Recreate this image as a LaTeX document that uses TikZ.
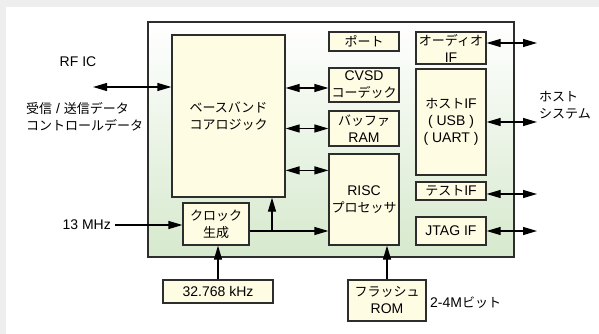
\documentclass[tikz,border=0pt]{standalone}
\usepackage{fontspec}
\setmainfont{Liberation Sans}
\newfontfamily\jpfont{Noto Sans CJK JP}
\usetikzlibrary{arrows.meta,calc}
\newcommand\J[1]{{\jpfont\fontsize{13}{17}\selectfont #1}}
\definecolor{bggray}{RGB}{238,238,238}
\definecolor{cream}{RGB}{255,252,228}
\definecolor{bd}{RGB}{45,45,45}
\definecolor{chipgreen}{RGB}{214,233,205}
\begin{document}
\begin{tikzpicture}[x=1pt,y=-1pt,
  every node/.style={font=\fontsize{14}{17}\selectfont},
  box/.style={draw=bd, fill=cream, line width=1.2pt, align=center, inner sep=0pt},
  lbl/.style={align=left, inner sep=0pt},
  conn/.style={line width=1.2pt, draw=black},
  bi/.style={conn, {Triangle[length=14pt,width=8pt]}-{Triangle[length=14pt,width=8pt]}},
  uni/.style={conn, -{Triangle[length=14pt,width=8pt]}}]
\useasboundingbox (0,0) rectangle (599,334);
\fill[bggray] (0,0) rectangle (599,334);
\fill[white] (6,7) rectangle (599,334);
% chip
\node[draw=bd, line width=1.2pt, top color=white, bottom color=chipgreen, minimum width=366pt, minimum height=235pt, inner sep=0pt] (chip) at (331,139.5) {};
% boxes
\node[box, minimum width=113pt, minimum height=162pt] (base) at (228.5,116) {\J{ベースバンド}\\\J{コアロジック}};
\node[box, minimum width=70pt, minimum height=19pt] (port) at (364,41.5) {\J{ポート}};
\node[box, minimum width=70pt, minimum height=34pt] (cvsd) at (364,85) {CVSD\\\J{コーデック}};
\node[box, minimum width=70pt, minimum height=35pt] (ram) at (364,128.5) {\J{バッファ}\\RAM};
\node[box, minimum width=70pt, minimum height=91pt] (risc) at (364,199.5) {RISC\\\J{プロセッサ}};
\node[box, minimum width=70pt, minimum height=32pt] (audio) at (451,48) {\J{オーディオ}\\IF};
\node[box, minimum width=70pt, minimum height=106pt] (host) at (451,122) {\J{ホスト}IF\\( USB )\\( UART )};
\node[box, minimum width=70pt, minimum height=18pt] (test) at (451,191) {\J{テスト}IF};
\node[box, minimum width=70pt, minimum height=28pt] (jtag) at (451,231) {JTAG IF};
\node[box, minimum width=66pt, minimum height=42pt] (clock) at (216,224) {\J{クロック}\\\J{生成}};
\node[box, minimum width=110pt, minimum height=23pt] (xtal) at (218,291.5) {32.768 kHz};
\node[box, minimum width=78pt, minimum height=41pt] (flash) at (387,300.5) {\J{フラッシュ}\\ROM};
% labels
\node[lbl] (rfic) at (78,62) {RF IC};
\node[lbl, anchor=west] (rxtx) at (26,116.5) {\J{受信} / \J{送信データ}\\\J{コントロールデータ}};
\node[lbl, anchor=east] (mhz) at (111,225) {13 MHz};
\node[lbl, anchor=west] (hostsys) at (539,105.5) {\J{ホスト}\\\J{システム}};
\node[lbl, anchor=west] (rom) at (430,303) {2-4M\J{ビット}};
% coordinates
\coordinate (rfL) at (93,87);
\coordinate (aR) at (537,43);
\coordinate (hR) at (537,122);
\coordinate (tR) at (537,194);
\coordinate (jR) at (537,231);
\coordinate (ck) at ($(clock.east)+(0,7)$);
\coordinate (br) at (272,231);
\coordinate (m1) at (115,225);
\coordinate (c1) at ([yshift=-3pt]cvsd.west);
\coordinate (r1) at ($(risc.north west)+(0,17)$);
% connectors
\draw[bi] (rfL) -- (rfL -| base.west);
\draw[bi] (c1 -| base.east) -- (c1);
\draw[bi] (ram.west -| base.east) -- (ram.west);
\draw[bi] (r1 -| base.east) -- (r1);
\draw[uni] (ck) -- (ck -| risc.west);
\draw[uni] (br) -- (br |- base.south);
\draw[uni] (m1) -- (m1 -| clock.west);
\draw[uni] (xtal.north) -- (xtal.north |- clock.south);
\draw[uni] (flash.north) -- (flash.north |- risc.south);
\draw[bi] ([yshift=5pt]audio.east) -- (aR);
\draw[bi] (host.east) -- (hR);
\draw[bi] ([yshift=-3pt]test.east) -- (tR);
\draw[bi] (jtag.east) -- (jR);
\end{tikzpicture}
\end{document}
